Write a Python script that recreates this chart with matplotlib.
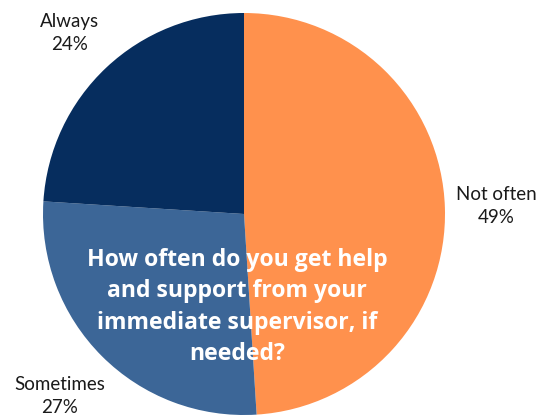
import matplotlib
matplotlib.use("Agg")
import matplotlib.pyplot as plt

categories = ["Not often", "Sometimes", "Always"]
values = [49, 27, 24]
colors = ["#FF914D", "#3C6697", "#062D5E"]
title = "How often do you get help\nand support from your\nimmediate supervisor, if\nneeded?"

W, H = 553, 416
fig = plt.figure(figsize=(W / 100, H / 100), dpi=100)
ax = fig.add_axes([0, 0, 1, 1])

cx, cy, r = 244, 214, 201
wedges, _ = ax.pie(values, colors=colors, startangle=-90, counterclock=True,
                   center=(cx, cy), radius=r, frame=True)
ax.set_xlim(0, W)
ax.set_ylim(H, 0)
ax.set_aspect("equal")
ax.axis("off")

label_pos = {"Not often": (496, 206), "Sometimes": (60, 396), "Always": (70, 33)}
for c, v in zip(categories, values):
    x, y = label_pos[c]
    ax.text(x, y, f"{c}\n{v}%", ha="center", va="center", fontsize=13.5,
            family="Lato", color="#1a1a1a", linespacing=1.4)

ax.text(237, 307, title, ha="center", va="center", fontsize=16.6, fontweight="bold",
        family="Open Sans", color="white", linespacing=1.42)

fig.savefig("out.png", dpi=100)
